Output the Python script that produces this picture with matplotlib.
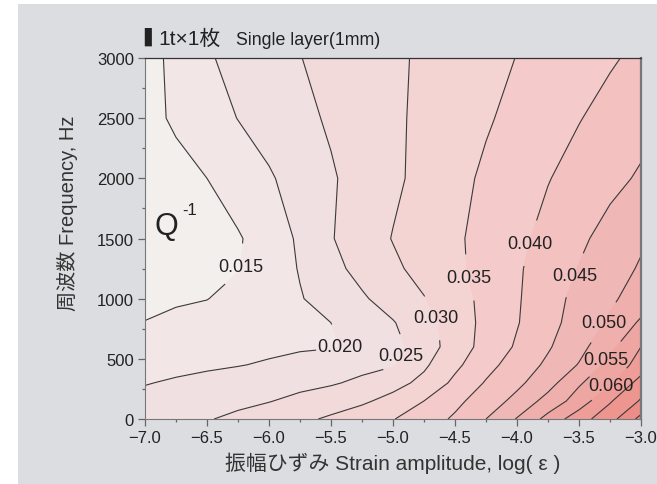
import numpy as np
import matplotlib.pyplot as plt
from matplotlib.patches import Rectangle
from matplotlib.ticker import MultipleLocator

plt.rcParams['font.family'] = ['Liberation Sans', 'Noto Sans CJK JP', 'DejaVu Sans']

# Grid: strain amplitude (log) and frequency (Hz)
strain = [-7.0, -6.75, -6.5, -6.25, -6.0, -5.75, -5.5, -5.25, -5.0,
          -4.75, -4.5, -4.25, -4.0, -3.75, -3.5, -3.25, -3.0]
freq = [0, 150, 300, 450, 600, 800, 1000, 1250, 1500, 2000, 2500, 3000]

# Q^-1 values, one row per frequency (estimated from the contour lines)
q_f0 = [.0225, .0236, .0247, .0260, .0275, .0290, .0307, .0327, .0348,
        .0376, .0407, .0450, .0503, .0566, .0629, .0681, .0765]
q_f150 = [.0212, .0221, .0230, .0239, .0248, .0262, .0277, .0292, .0316,
          .0350, .0388, .0424, .0464, .0518, .0572, .0645, .0705]
q_f300 = [.0198, .0205, .0213, .0221, .0229, .0237, .0245, .0260, .0283,
          .0313, .0361, .0404, .0439, .0481, .0544, .0590, .0672]
q_f450 = [.0184, .0189, .0193, .0198, .0205, .0216, .0226, .0236, .0246,
          .0292, .0339, .0384, .0422, .0459, .0503, .0567, .0619]
q_f600 = [.0170, .0175, .0180, .0185, .0190, .0194, .0197, .0208, .0235,
          .0274, .0324, .0367, .0406, .0445, .0484, .0537, .0600]
q_f800 = [.0151, .0159, .0167, .0176, .0184, .0192, .0200, .0224, .0247,
          .0281, .0322, .0364, .0397, .0435, .0470, .0507, .0558]
q_f1000 = [.0140, .0145, .0149, .0164, .0180, .0197, .0220, .0244, .0271,
           .0298, .0330, .0363, .0395, .0431, .0464, .0492, .0522]
q_f1250 = [.0125, .0133, .0140, .0148, .0173, .0203, .0236, .0265, .0291,
           .0316, .0340, .0367, .0394, .0423, .0452, .0479, .0505]
q_f1500 = [.0115, .0125, .0135, .0146, .0171, .0208, .0247, .0276, .0302,
           .0323, .0343, .0365, .0389, .0414, .0441, .0467, .0493]
q_f2000 = [.0120, .0135, .0150, .0172, .0195, .0219, .0245, .0268, .0291,
           .0314, .0336, .0358, .0378, .0398, .0417, .0437, .0456]
q_f2500 = [.0135, .0157, .0179, .0201, .0219, .0238, .0256, .0274, .0292,
           .0310, .0327, .0345, .0363, .0380, .0398, .0415, .0433]
q_f3000 = [.0131, .0163, .0195, .0214, .0232, .0249, .0263, .0278, .0292,
           .0307, .0321, .0336, .0351, .0366, .0381, .0395, .0410]

fill_levels = [0.005, 0.015, 0.020, 0.025, 0.030, 0.035, 0.040, 0.045,
               0.050, 0.055, 0.060, 0.065, 0.070, 0.075, 0.085]
line_levels = [0.015, 0.020, 0.025, 0.030, 0.035, 0.040, 0.045,
               0.050, 0.055, 0.060, 0.065, 0.070, 0.075]
band_colors = ['#f3efed', '#f2e7e6', '#f1e0e1', '#f2dadb', '#f4d3d3',
               '#f5caca', '#f3c1c0', '#efb8b6', '#efafac', '#eea6a2',
               '#ee9d98', '#ed958f', '#ec8e87', '#eb8780']

# label positions (data coords)
label_levels = [0.015, 0.020, 0.025, 0.030, 0.035, 0.040, 0.045,
                0.050, 0.055, 0.060]
label_pos = [(-6.22, 1263), (-5.30, 545), (-4.89, 499), (-4.62, 864),
             (-4.37, 1180), (-3.80, 1438), (-3.45, 1163), (-3.28, 790),
             (-3.28, 490), (-3.20, 224)]

Q = np.array([q_f0, q_f150, q_f300, q_f450, q_f600, q_f800, q_f1000,
              q_f1250, q_f1500, q_f2000, q_f2500, q_f3000])
X, Y = np.meshgrid(strain, freq)

fig = plt.figure(figsize=(6.57, 4.85), dpi=100)
fig.patches.append(Rectangle((18 / 657, 0), 1 - 18 / 657, 1 - 5 / 485,
                             transform=fig.transFigure, facecolor='#dcdde0',
                             edgecolor='none', zorder=-5))

ax = fig.add_axes([145 / 657, 65 / 485, 496 / 657, 361 / 485])
ax.set_zorder(2)
ax.contourf(X, Y, Q, levels=fill_levels, colors=band_colors)
cl = ax.contour(X, Y, Q, levels=line_levels, colors='#3a3a3a', linewidths=0.8)
texts = ax.clabel(cl, levels=label_levels, fmt='%.3f', fontsize=13,
                  manual=label_pos, inline=True, inline_spacing=1)
for t in texts:
    t.set_rotation(0)
    t.set_color('#222222')

ax.set_xlim(-7, -3)
ax.set_ylim(0, 3000)
ax.xaxis.set_major_locator(MultipleLocator(0.5))
ax.xaxis.set_minor_locator(MultipleLocator(0.25))
ax.yaxis.set_major_locator(MultipleLocator(500))
ax.yaxis.set_minor_locator(MultipleLocator(250))
ax.xaxis.set_major_formatter(lambda v, p: f'{v:.1f}'.replace('-', '\u2212'))
ax.tick_params(which='major', length=5, width=0.9, color='#666666',
               labelsize=12, labelcolor='#222222', pad=3)
ax.tick_params(which='minor', length=2.5, width=0.9, color='#666666')
for side in ['left', 'bottom', 'right']:
    ax.spines[side].set_color('#777777')
ax.spines['right'].set_linewidth(1.6)
ax.spines['top'].set_color('#333333')
ax.spines['top'].set_linewidth(0.9)

# Q^-1 mark
ax.text(-6.83, 1600, 'Q', fontsize=22, ha='center', va='center', color='#222222')
ax.text(-6.64, 1745, '-1', fontsize=12, ha='center', va='center', color='#222222')

# title pieces
fig.text(144 / 657, 1 - 37 / 485, '\u258c', fontsize=13, ha='left', va='center',
         color='#222222', family='DejaVu Sans')
fig.text(158 / 657, 1 - 45 / 485, '1t\u00d71\u679a', fontsize=15,
         ha='left', va='baseline', color='#222222')
fig.text(236 / 657, 1 - 45 / 485, 'Single layer(1mm)', fontsize=12.8,
         ha='left', va='baseline', color='#222222')

fig.text(67 / 657, 1 - 213 / 485, '周波数 Frequency, Hz', rotation=90,
         fontsize=14.5, ha='center', va='center', color='#333333')
fig.text(393 / 657, 1 - 463 / 485, '振幅ひずみ Strain amplitude, log( ε )',
         fontsize=15, ha='center', va='center', color='#333333')

fig.savefig('out.png', dpi=100)
